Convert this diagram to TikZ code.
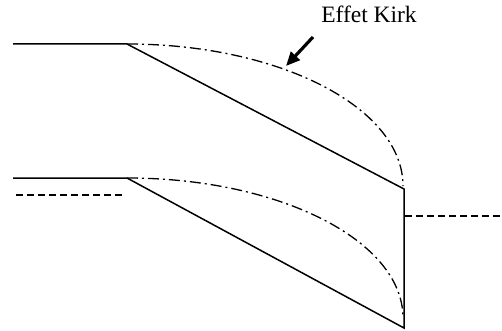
\documentclass[tikz,border=0pt]{standalone}
\usepackage{fontspec}
\setmainfont{Liberation Serif}
\usepackage{tikz}
\usetikzlibrary{arrows.meta,positioning}

\begin{document}
\begin{tikzpicture}[x=1pt,y=-1pt,
  band/.style={line width=1.5pt,line join=miter},
  level/.style={line width=1.4pt,dash pattern=on 7pt off 4pt},
  kirk/.style={line width=1.3pt,dash pattern=on 11pt off 4pt on 2pt off 4pt},
  arrow/.style={-{Triangle[length=14pt,width=12pt]},line width=3.2pt},
]
  \useasboundingbox (0,0) rectangle (502,331);
  % upper edge
  \coordinate (ua) at (13,44);
  \coordinate (ub) at (127,44);
  \coordinate (uc) at (404,189);
  % lower edge
  \coordinate (la) at (13,178);
  \coordinate (lb) at (127,178);
  \coordinate (lc) at (404,328);
  \draw[band] (ua) -- (ub) -- (uc) -- (lc) -- (lb) -- (la);
  % levels
  \coordinate (fl1) at (16,195);
  \coordinate (fl2) at (123,195);
  \coordinate (fr1) at (405,216);
  \coordinate (fr2) at (502,216);
  \draw[level] (fl1) -- (fl2);
  \draw[level] (fr1) -- (fr2);
  % Kirk curves
  \draw[kirk] (ub) arc[start angle=270,end angle=360,x radius=276,y radius=142];
  \draw[kirk] (lb) arc[start angle=270,end angle=360,x radius=276,y radius=140];
  \node[font=\fontsize{23.5}{28}\selectfont] (label) at (369,14) {Effet Kirk};
  \coordinate (tip) at (286,66);
  \draw[arrow] (313,37) -- (tip);
\end{tikzpicture}
\end{document}
